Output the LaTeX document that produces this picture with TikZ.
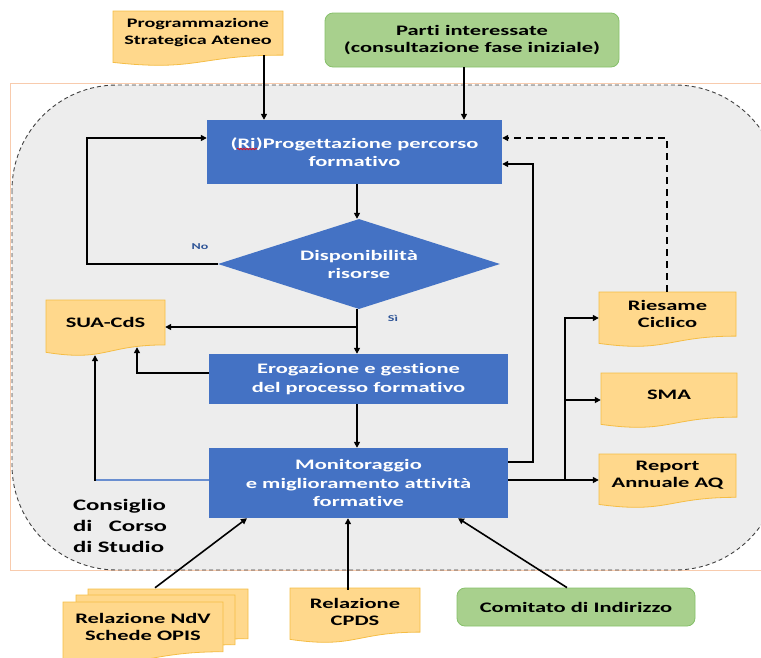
\documentclass[tikz,border=0pt]{standalone}
\usepackage{fontspec}
\setmainfont{Carlito}[FakeStretch=1.55, Ligatures=NoCommon]
\usetikzlibrary{arrows.meta,shapes.geometric,calc,decorations.pathmorphing}
\definecolor{myblue}{HTML}{4472C4}
\definecolor{docfill}{HTML}{FFD88C}
\definecolor{docline}{HTML}{F5BD45}
\definecolor{grfill}{HTML}{A8D08D}
\definecolor{grline}{HTML}{86C06A}
\definecolor{bgfill}{HTML}{EDEDED}
\definecolor{pinkline}{HTML}{F8CBAD}
\definecolor{lblblue}{HTML}{2F5597}
\newcommand\docshape[4]{%
  \filldraw[docsty] (#1,#2) -- (#3,#2) -- (#3,{#2+0.802*#4})
   .. controls ({(#1+#3)/2},{#2+0.802*#4}) and ({(#1+#3)/2},{#2+1.107*#4}) ..
   (#1,{#2+0.934*#4}) -- cycle;}
\tikzset{
  docsty/.style={fill=docfill, draw=docline, line width=0.8pt},
  bfs/.style={font=\bfseries\fontsize{14.5}{17}\selectfont, align=center},
  bbox/.style={bfs, font=\bfseries\fontsize{14.5}{18.5}\selectfont, fill=myblue, text=white, inner sep=0},
  dbox/.style={bfs, inner sep=0},
  gbox/.style={bfs, fill=grfill, draw=grline, line width=0.8pt, rounded corners=8pt, inner sep=0},
  conn/.style={line width=1.6pt, black},
  arr/.style={conn, -{Triangle[length=6pt,width=6pt]}},
  lbl/.style={font=\bfseries\fontsize{9}{10}\selectfont, text=lblblue}
}
\begin{document}
\begin{tikzpicture}[x=1pt,y=-1pt]
\useasboundingbox (0,0) rectangle (761,657);
% background region
\fill[bgfill] (12,85) [rounded corners=105pt] rectangle (780,570);
\draw[pinkline, line width=0.8pt] (10,83) rectangle (790,570);
\draw[black!75, line width=0.9pt, dash pattern=on 4pt off 3pt, rounded corners=105pt] (12,85) rectangle (780,570);

% document shapes
\docshape{113}{11}{283}{55}
\docshape{46}{300}{165}{56}
\docshape{599}{292}{736}{55}
\docshape{601}{373}{737}{55}
\docshape{599}{454}{736}{54}
\docshape{290}{588}{420}{55}
\docshape{88}{589}{248}{62}
\docshape{76}{595}{235}{62}
\docshape{63}{602}{223}{62}

% nodes
\node[dbox, font=\bfseries\fontsize{13}{17}\selectfont, minimum width=170pt, minimum height=44pt] (progstrat) at (198,33) {Programmazione\\Strategica Ateneo};
\node[gbox, minimum width=294pt, minimum height=54pt] (parti) at (472,40) {Parti interessate\\(consultazione fase iniziale)};
\node[bbox, minimum width=295pt, minimum height=64pt] (prog) at (354.5,152) {(Ri)Progettazione percorso\\formativo};
\node[diamond, aspect=3.13, fill=myblue, text=white, minimum width=282pt, minimum height=90pt, inner sep=0,
      font=\bfseries\fontsize{14.5}{18}\selectfont, align=center] (dis) at (359,264) {Disponibilità\\risorse};
\node[dbox, minimum width=119pt, minimum height=45pt] (sua) at (105.5,322.5) {SUA-CdS};
\node[bbox, minimum width=299pt, minimum height=50pt] (erog) at (358.5,379) {Erogazione e gestione\\del processo formativo};
\node[bbox, minimum width=299pt, minimum height=70pt] (monit) at (358.5,483) {Monitoraggio\\e miglioramento attività\\formative};
\node[dbox, minimum width=137pt, minimum height=44pt] (ries) at (667.5,314) {Riesame\\Ciclico};
\node[dbox, minimum width=136pt, minimum height=44pt] (sma) at (669,395) {SMA};
\node[dbox, minimum width=137pt, minimum height=43pt] (rep) at (667.5,475.6) {Report\\Annuale AQ};
\node[dbox, minimum width=130pt, minimum height=44pt] (cpds) at (355,612) {Relazione\\CPDS};
\node[dbox, minimum width=160pt, minimum height=50pt] (ndv) at (143,627) {Relazione NdV\\Schede OPIS};
\node[gbox, minimum width=238pt, minimum height=38pt] (comit) at (576,607) {Comitato di Indirizzo};
\node[font=\bfseries\fontsize{16}{21}\selectfont, text width=94pt, align=left, inner sep=0] (ccs) at (120,526)
  {Consiglio\\\leavevmode\hbox to 94pt{di\hfill Corso}\\di Studio};
\node[lbl] (no) at (200,247) {No};
\node[lbl] (si) at (393,318) {Sì};
\draw[red, line width=0.6pt, decorate, decoration={snake, amplitude=0.8pt, segment length=3pt}] (237,149) -- (257,149);

% connectors
\draw[arr] (progstrat.south -| 264,0) -- (prog.north -| 264,0);
\draw[arr] (parti.south -| 464,0) -- (prog.north -| 464,0);
\draw[arr] (prog.south -| 357,0) -- (dis.north -| 357,0);
\draw[arr] (dis.west) -| (87,138) -- (prog.west |- 0,138);
\draw[arr] (dis.south -| 357,0) -- (erog.north -| 357,0);
\coordinate (br) at (357,327);
\draw[arr] (br) -- (sua.east |- br);
\draw[arr] (erog.west |- 0,373) -| ([xshift=31.5pt,yshift=-2pt]sua.south);
\coordinate (ml) at (95,480);
\draw[line width=1.6pt, myblue!80] (monit.west |- ml) -- (ml);
\draw[arr] ([yshift=-0.8pt]ml) -- ([xshift=-10.5pt,yshift=-10pt]sua.south);
\draw[arr] (erog.south -| 357,0) -- (monit.north -| 357,0);
\draw[arr] (monit.east |- 0,462) -| (533,164) -- (prog.east |- 0,164);
\draw[arr] (monit.east |- 0,480) -- (rep.west |- 0,480);
\coordinate (bx) at (565,480);
\draw[arr] (bx) |- (ries.west |- 0,318);
\draw[arr] (bx |- 0,400) -- (sma.west |- 0,400);
\draw[arr, dash pattern=on 7pt off 5pt] (ries.north -| 667,0) |- (prog.east |- 0,138);
\draw[arr] ([xshift=12pt,yshift=14pt]ndv.north) -- (monit.south -| 247,0);
\draw[arr] (cpds.north -| 348,0) -- (monit.south -| 348,0);
\draw[arr] (comit.north -| 567,0) -- (monit.south -| 458,0);
\end{tikzpicture}
\end{document}
